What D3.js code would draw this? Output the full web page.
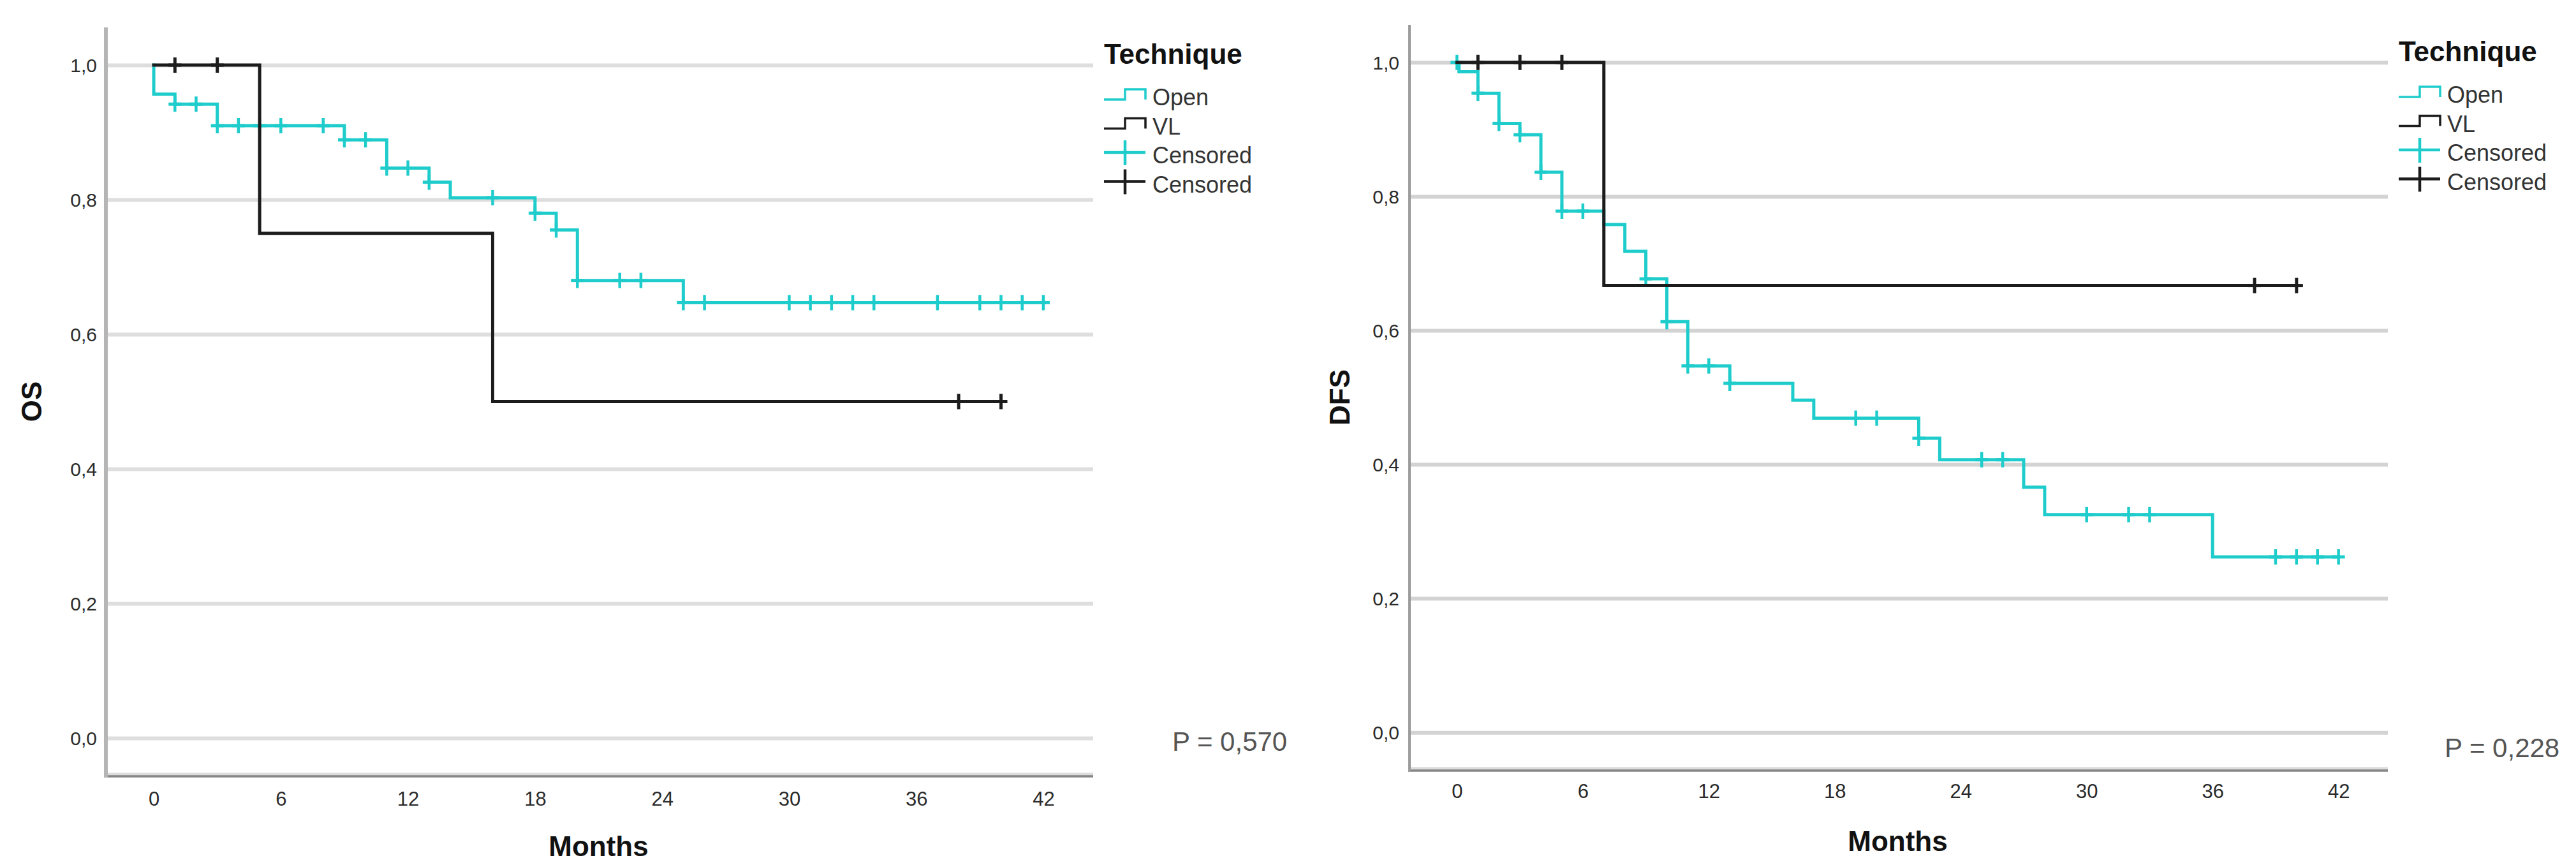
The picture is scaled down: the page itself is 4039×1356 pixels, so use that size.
<!DOCTYPE html>
<html>
<head>
  <meta charset="UTF-8">
  <style>
    body { margin: 0; background: #fff; }
    svg { display: block; font-family: "Liberation Sans", Arial, sans-serif; }
  </style>
</head>
<body>
<svg></svg>
<script src="https://d3js.org/d3.v7.min.js"></script>
<script>

// ---- data ----
var monthTicks = [0, 6, 12, 18, 24, 30, 36, 42];
var survTicks = [0, 0.2, 0.4, 0.6, 0.8, 1.0];
var legendLabels = ["Open", "VL", "Censored", "Censored"];

// OS, Open
var osOpenTime = [0, 0, 1, 3, 9, 11, 13, 14, 18, 19, 20, 25];
var osOpenSurv = [1, 0.957, 0.942, 0.910, 0.889, 0.847, 0.826, 0.803, 0.780, 0.755, 0.680, 0.647];
var osOpenCens = [1, 2, 3, 4, 5, 6, 8, 9, 10, 11, 12, 13, 16, 18, 19, 20, 22, 23, 25, 26, 30, 31, 32, 33, 34, 37, 39, 40, 41, 42];
// OS, VL
var osVlTime = [0, 5, 16];
var osVlSurv = [1, 0.75, 0.5];
var osVlCens = [1, 3, 38, 40];

// DFS, Open
var dfsOpenTime = [0, 0.1, 1, 2, 3, 4, 5, 7, 8, 9, 10, 11, 13, 16, 17, 22, 23, 27, 28, 36];
var dfsOpenSurv = [1, 0.986, 0.954, 0.909, 0.892, 0.836, 0.778, 0.758, 0.718, 0.677, 0.613, 0.547, 0.521, 0.496, 0.469, 0.439, 0.407, 0.366, 0.325, 0.262];
var dfsOpenCens = [0, 1, 2, 3, 4, 5, 6, 9, 10, 11, 12, 13, 19, 20, 22, 25, 26, 30, 32, 33, 39, 40, 41, 42];
// DFS, VL
var dfsVlTime = [0, 7];
var dfsVlSurv = [1, 0.667];
var dfsVlCens = [1, 3, 5, 38, 40];

var pValues = ["P = 0,570", "P = 0,228"];

var cyan = "#1fcccc", black = "#1c1c1c";

let width = 4039, height = 1356;
let svg = d3.select("svg").attr("width", width).attr("height", height);

var locale = d3.formatLocale({decimal: ",", thousands: ".", grouping: [3], currency: ["", ""]});
var fmt = locale.format(".1f");

function series(time, surv, cens) {
    return time.map((t, i) => ({t: t, s: surv[i]})).concat(
        [{t: d3.max(cens.concat(time)), s: surv[surv.length - 1]}]);
}
function survAt(time, surv, t) {
    var v = surv[0];
    time.forEach((tt, i) => { if (tt <= t) v = surv[i]; });
    return v;
}

function drawPanel(p) {
    var x = d3.scaleLinear().domain([-2.26, 44.35]).range([p.x0, p.x1]);
    var y = d3.scaleLinear().domain([-0.056, 1.056]).range([p.yBot, p.yTop]);
    var g = svg.append("g");

    // y axis with gridlines
    var yAxis = d3.axisLeft(y).tickValues(survTicks).tickFormat(fmt)
        .tickSizeInner(-(p.x1 - p.x0)).tickSizeOuter(0).tickPadding(p.yPad);
    var ya = g.append("g").attr("transform", "translate(" + p.x0 + ",0)").call(yAxis);
    ya.select(".domain").remove();
    ya.selectAll("line").attr("stroke", p.gridColor).attr("stroke-width", 6);
    ya.selectAll("text").attr("font-size", 30).attr("fill", "#2a2a2a")
        .attr("font-family", "'Liberation Sans', Arial, sans-serif").attr("dy", "0.36em");

    // x axis
    var xAxis = d3.axisBottom(x).tickValues(monthTicks).tickSize(0).tickPadding(p.xPad);
    var xa = g.append("g").attr("transform", "translate(0," + p.yBot + ")").call(xAxis);
    xa.select(".domain").remove();
    xa.selectAll("text").attr("font-size", 31).attr("fill", "#2a2a2a")
        .attr("font-family", "'Liberation Sans', Arial, sans-serif");

    // axis lines
    g.append("line").attr("x1", p.x0).attr("x2", p.x1).attr("y1", p.yBot - 2).attr("y2", p.yBot - 2)
        .attr("stroke", "#dcdcdc").attr("stroke-width", 5);
    g.append("line").attr("x1", p.x0).attr("x2", p.x1).attr("y1", p.yBot + 1).attr("y2", p.yBot + 1)
        .attr("stroke", "#858585").attr("stroke-width", 3.5);
    g.append("line").attr("x1", p.x0).attr("x2", p.x0).attr("y1", p.yTop).attr("y2", p.yBot + 3)
        .attr("stroke", p.axisColor).attr("stroke-width", p.axisWidth);

    // curves
    var line = d3.line().x(d => x(d.t)).y(d => y(d.s)).curve(d3.curveStepAfter);
    p.curves.forEach(c => {
        g.append("path").datum(series(c.time, c.surv, c.cens))
            .attr("d", line).attr("fill", "none")
            .attr("stroke", c.color).attr("stroke-width", 5)
            .attr("stroke-linejoin", "miter").attr("stroke-linecap", "square");
        var marks = g.append("g").selectAll("g").data(c.cens).enter().append("g")
            .attr("transform", d => "translate(" + x(d) + "," + y(survAt(c.time, c.surv, d)) + ")");
        marks.append("line").attr("x1", 0).attr("x2", 0).attr("y1", -12).attr("y2", 12)
            .attr("stroke", c.color).attr("stroke-width", c.color == black ? 5 : 4.5);
        marks.append("line").attr("x1", -10).attr("x2", 10).attr("y1", 0).attr("y2", 0)
            .attr("stroke", c.color).attr("stroke-width", 5);
    });

    // legend
    var lx = p.x1 + 17;
    g.append("text").attr("x", lx).attr("y", p.yTop + 57).text("Technique")
        .attr("font-size", 44).attr("font-weight", "bold").attr("fill", "#111");
    legendLabels.forEach((lab, i) => {
        var by = p.yTop + 122 + i * 45.5;
        g.append("text").attr("x", lx + 76).attr("y", by).text(lab)
            .attr("font-size", 36).attr("fill", "#333");
        var col = (i % 2 == 0) ? cyan : black;
        if (i < 2) {
            g.append("path")
                .attr("d", "M" + lx + "," + (by - 9) + "H" + (lx + 33) + "V" + (by - 25) + "H" + (lx + 65) + "V" + (by - 9))
                .attr("fill", "none").attr("stroke", col).attr("stroke-width", 3.5);
        } else {
            g.append("line").attr("x1", lx).attr("x2", lx + 65).attr("y1", by - 17).attr("y2", by - 17)
                .attr("stroke", col).attr("stroke-width", 4.5);
            g.append("line").attr("x1", lx + 33).attr("x2", lx + 33).attr("y1", by - 36).attr("y2", by + 3)
                .attr("stroke", col).attr("stroke-width", 4.5);
        }
    });

    // p value
    g.append("text").attr("x", p.px).attr("y", p.py).text(p.pText)
        .attr("font-size", 42).attr("fill", "#555");

    // axis titles
    g.append("text").attr("x", (x(0) + x(42)) / 2).attr("y", p.monthsY).text("Months")
        .attr("text-anchor", "middle").attr("font-size", 44).attr("font-weight", "bold").attr("fill", "#111");
    g.append("text").attr("transform", "translate(" + p.titleX + "," + (y(0) + y(1)) / 2 + ") rotate(-90)")
        .text(p.yTitle).attr("text-anchor", "middle")
        .attr("font-size", 44).attr("font-weight", "bold").attr("fill", "#111");
}

drawPanel({
    x0: 166, x1: 1714, yTop: 43, yBot: 1216, yPad: 14, xPad: 25,
    gridColor: "#dedede", axisColor: "#b5b5b5", axisWidth: 6,
    yTitle: "OS", titleX: 65, monthsY: 1342,
    pText: pValues[0], px: 1838, py: 1177,
    curves: [
        {time: osOpenTime, surv: osOpenSurv, cens: osOpenCens, color: cyan},
        {time: osVlTime, surv: osVlSurv, cens: osVlCens, color: black}
    ]
});

drawPanel({
    x0: 2210, x1: 3744, yTop: 39, yBot: 1207, yPad: 16, xPad: 22,
    gridColor: "#d3d3d3", axisColor: "#9c9c9c", axisWidth: 4,
    yTitle: "DFS", titleX: 2116, monthsY: 1334,
    pText: pValues[1], px: 3833, py: 1187,
    curves: [
        {time: dfsOpenTime, surv: dfsOpenSurv, cens: dfsOpenCens, color: cyan},
        {time: dfsVlTime, surv: dfsVlSurv, cens: dfsVlCens, color: black}
    ]
});

</script>
</body>
</html>
